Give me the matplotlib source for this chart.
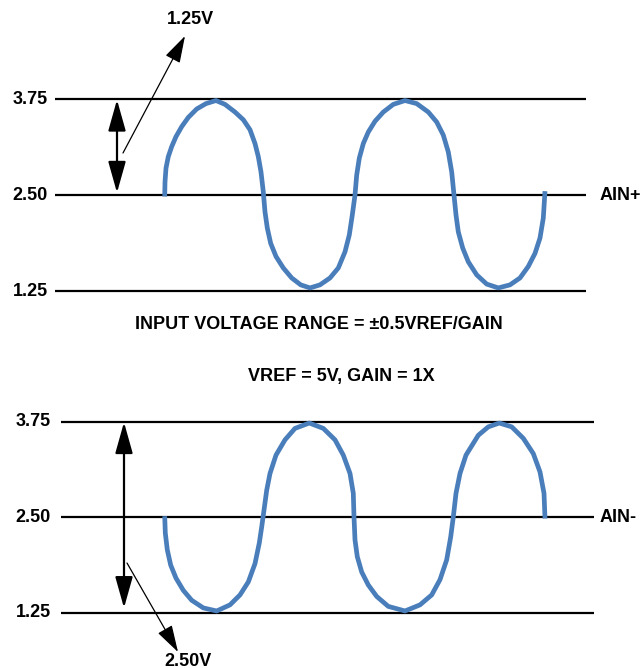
import matplotlib
matplotlib.use("Agg")
import matplotlib.pyplot as plt

plt.rcParams['font.family'] = ['Liberation Sans', 'DejaVu Sans']

# reference levels (V)
levels = [3.75, 2.50, 1.25]
level_labels = ["3.75", "2.50", "1.25"]

# AIN+ waveform: time (arbitrary units) and voltage
t_pos = [164.7, 165, 166, 168.3, 171.7, 176, 181.7, 188.3, 196.7, 206,
         216, 225, 235, 243.3, 250, 255, 258.3, 261, 263.3, 265,
         267.3, 270.7, 276, 283.3, 291.7, 300.7, 310, 320, 330, 338.3,
         345, 349.3, 352.3, 355, 356.7, 359.3, 363.3, 368.3, 375, 383.3,
         393.3, 405, 416.7, 428.3, 436.7, 443.3, 448.3, 451.7, 454, 456,
         458.3, 462.7, 468.3, 476.7, 486.7, 498.3, 510, 520, 528.3, 535,
         540, 543.3, 545]
v_pos = [2.48, 2.67, 2.85, 3.00, 3.13, 3.26, 3.39, 3.51, 3.62, 3.69,
         3.73, 3.68, 3.58, 3.48, 3.35, 3.17, 3.00, 2.80, 2.54, 2.28,
         2.07, 1.87, 1.70, 1.55, 1.42, 1.33, 1.29, 1.33, 1.42, 1.55,
         1.76, 1.98, 2.24, 2.50, 2.76, 2.98, 3.17, 3.32, 3.46, 3.58,
         3.68, 3.73, 3.69, 3.58, 3.45, 3.28, 3.06, 2.80, 2.50, 2.24,
         2.02, 1.81, 1.63, 1.46, 1.34, 1.29, 1.33, 1.42, 1.57, 1.74,
         1.94, 2.20, 2.55]

# AIN- waveform
t_neg = [164.7, 165.3, 167.3, 170.7, 176, 183.3, 191.7, 203.3, 216.7, 230,
         240, 248.3, 255, 259.3, 261.7, 264, 266.7, 270, 276, 285,
         295, 309.3, 323.3, 335, 343.3, 350, 353.3, 354, 355, 357.3,
         361.7, 368.3, 376.7, 388.3, 405, 420, 431.7, 440, 446.7, 450.7,
         453.3, 456, 460, 466, 478.3, 488.3, 499.3, 511.7, 523.3, 533.3,
         540, 544, 545]
v_neg = [2.51, 2.29, 2.07, 1.87, 1.70, 1.54, 1.41, 1.31, 1.27, 1.35,
         1.48, 1.65, 1.89, 2.16, 2.37, 2.59, 2.85, 3.07, 3.31, 3.51,
         3.66, 3.73, 3.66, 3.51, 3.31, 3.07, 2.81, 2.50, 2.20, 1.98,
         1.78, 1.61, 1.46, 1.33, 1.27, 1.35, 1.48, 1.68, 1.94, 2.24,
         2.50, 2.81, 3.07, 3.31, 3.57, 3.68, 3.73, 3.68, 3.53, 3.33,
         3.09, 2.81, 2.48]

W, H = 644, 668
fig = plt.figure(figsize=(W / 100, H / 100), dpi=100)
fig.patch.set_facecolor('white')

wave_color = '#4a7ebb'
bold = dict(fontweight='bold', fontsize=13, color='black')


def make_axes(top_px, bot_px, y_mid_px, px_per_v):
    ax = fig.add_axes([0, 1 - bot_px / H, 1, (bot_px - top_px) / H])
    ax.set_xlim(0, W)
    ax.set_ylim(2.5 + (y_mid_px - bot_px) / px_per_v,
                2.5 + (y_mid_px - top_px) / px_per_v)
    ax.axis('off')
    return ax


arrow2 = dict(arrowstyle='<|-|>,head_length=1.6,head_width=0.45',
              mutation_scale=12, color='black', lw=1.6, shrinkA=0, shrinkB=0)
arrow1 = dict(arrowstyle='-|>,head_length=1.4,head_width=0.42',
              mutation_scale=12, color='black', lw=0.9, shrinkA=0, shrinkB=0)

# ---- top panel (AIN+)
ax1 = make_axes(0, 320, 195, 76.8)
for lv, lb in zip(levels, level_labels):
    ax1.plot([55, 586], [lv, lv], color='black', lw=1.6, solid_capstyle='butt')
    ax1.text(48, lv, lb, ha='right', va='center', **bold)
ax1.plot(t_pos, v_pos, color=wave_color, lw=3.4, solid_capstyle='butt',
         solid_joinstyle='round')
ax1.text(600, 2.50, "AIN+", ha='left', va='center', **bold)
ax1.annotate('', xy=(117, 3.74), xytext=(117, 2.53), arrowprops=arrow2)
ax1.annotate('', xy=(185, 2.5 + (195 - 36) / 76.8),
             xytext=(123, 2.5 + (195 - 153) / 76.8), arrowprops=arrow1)
ax1.text(190, 2.5 + (195 - 19) / 76.8, "1.25V", ha='center', va='center', **bold)

# ---- middle text
fig.text(319 / W, 1 - 325 / H, "INPUT VOLTAGE RANGE = \u00b10.5VREF/GAIN",
         ha='center', va='center', **bold)
fig.text(341 / W, 1 - 377 / H, "VREF = 5V, GAIN = 1X",
         ha='center', va='center', **bold)

# ---- bottom panel (AIN-)
ax2 = make_axes(400, 668, 517, 76.4)
for lv, lb in zip(levels, level_labels):
    ax2.plot([61, 594], [lv, lv], color='black', lw=1.6, solid_capstyle='butt')
    ax2.text(51, lv, lb, ha='right', va='center', **bold)
ax2.plot(t_neg, v_neg, color=wave_color, lw=3.4, solid_capstyle='butt',
         solid_joinstyle='round')
ax2.text(600, 2.50, "AIN-", ha='left', va='center', **bold)
ax2.annotate('', xy=(124, 3.74), xytext=(124, 1.31), arrowprops=arrow2)
ax2.annotate('', xy=(178, 2.5 + (517 - 652) / 76.4),
             xytext=(127, 2.5 + (517 - 563) / 76.4), arrowprops=arrow1)
ax2.text(188, 2.5 + (517 - 661) / 76.4, "2.50V", ha='center', va='center', **bold)

fig.savefig('out.png', dpi=100)
